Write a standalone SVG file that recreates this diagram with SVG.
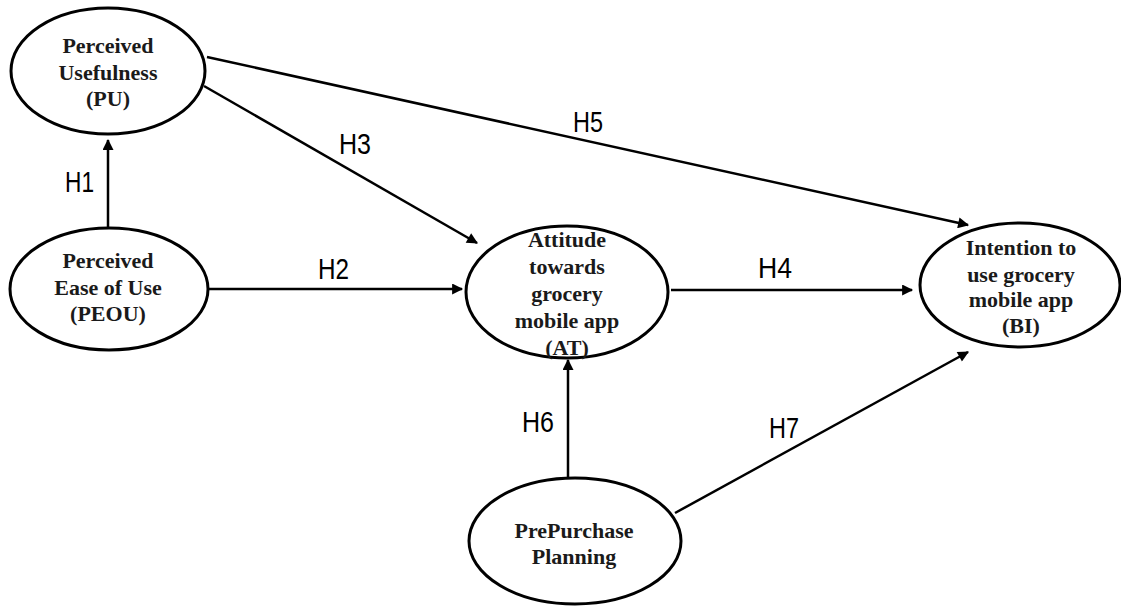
<svg xmlns="http://www.w3.org/2000/svg" width="1121" height="609" viewBox="0 0 1121 609">
  <style>
    .node ellipse { fill: #ffffff; stroke: #000000; stroke-width: 3; }
    .node text { font-family: "Liberation Serif", "Times New Roman", serif; font-weight: bold; font-size: 22px; fill: #1a1a1a; text-anchor: middle; }
    .edge { stroke: #000000; stroke-width: 2.5; fill: none; marker-end: url(#arrow); }
    .lbl { font-family: "Liberation Sans", Arial, sans-serif; font-size: 29px; fill: #000000; }
    .lbl.b { font-weight: bold; }
  </style>
  <defs>
    <marker id="arrow" viewBox="0 0 10 10" refX="9" refY="5" markerWidth="5.5" markerHeight="4.4" markerUnits="strokeWidth" orient="auto">
      <path d="M0,0 L10,5 L0,10 z" fill="#000000"/>
    </marker>
  </defs>
  <rect width="1121" height="609" fill="#ffffff"/>

  <!-- connectors -->
  <g id="connectors">
    <line class="edge" x1="108" y1="227" x2="108" y2="140"/>
    <line class="edge" x1="207" y1="289" x2="462" y2="289"/>
    <line class="edge" x1="204" y1="86" x2="477" y2="243"/>
    <line class="edge" x1="207" y1="57" x2="968" y2="225"/>
    <line class="edge" x1="671" y1="290" x2="912" y2="290"/>
    <line class="edge" x1="568" y1="477" x2="568" y2="360"/>
    <line class="edge" x1="675" y1="513" x2="968" y2="352"/>
    <g id="edge-labels">
      <text class="lbl" x="65" y="192" textLength="29" lengthAdjust="spacingAndGlyphs">H1</text>
      <text class="lbl" x="318" y="279" textLength="31" lengthAdjust="spacingAndGlyphs">H2</text>
      <text class="lbl" x="339" y="154" textLength="32" lengthAdjust="spacingAndGlyphs">H3</text>
      <text class="lbl" x="573" y="132" textLength="30" lengthAdjust="spacingAndGlyphs">H5</text>
      <text class="lbl" x="758" y="278" textLength="34" lengthAdjust="spacingAndGlyphs">H4</text>
      <text class="lbl" x="522" y="432" textLength="32" lengthAdjust="spacingAndGlyphs">H6</text>
      <text class="lbl" x="769" y="438" textLength="30" lengthAdjust="spacingAndGlyphs">H7</text>
    </g>
  </g>

  <!-- constructs -->
  <g id="PU" class="node">
    <ellipse cx="108" cy="71" rx="97" ry="63"/>
    <text x="108" y="53">Perceived</text>
    <text x="108" y="80">Usefulness</text>
    <text x="108" y="106">(PU)</text>
  </g>
  <g id="PEOU" class="node">
    <ellipse cx="109" cy="289" rx="99" ry="61"/>
    <text x="108" y="268">Perceived</text>
    <text x="108" y="295">Ease of Use</text>
    <text x="108" y="321">(PEOU)</text>
  </g>
  <g id="AT" class="node">
    <ellipse cx="567" cy="292" rx="101" ry="66"/>
    <text x="567" y="247">Attitude</text>
    <text x="567" y="274">towards</text>
    <text x="567" y="301">grocery</text>
    <text x="567" y="328">mobile app</text>
    <text x="567" y="355">(AT)</text>
  </g>
  <g id="BI" class="node">
    <ellipse cx="1020" cy="285" rx="100" ry="62"/>
    <text x="1021" y="255">Intention to</text>
    <text x="1021" y="282">use grocery</text>
    <text x="1021" y="307">mobile app</text>
    <text x="1021" y="333">(BI)</text>
  </g>
  <g id="PPP" class="node">
    <ellipse cx="575" cy="541" rx="106" ry="63"/>
    <text x="574" y="538">PrePurchase</text>
    <text x="574" y="564">Planning</text>
  </g>
</svg>
